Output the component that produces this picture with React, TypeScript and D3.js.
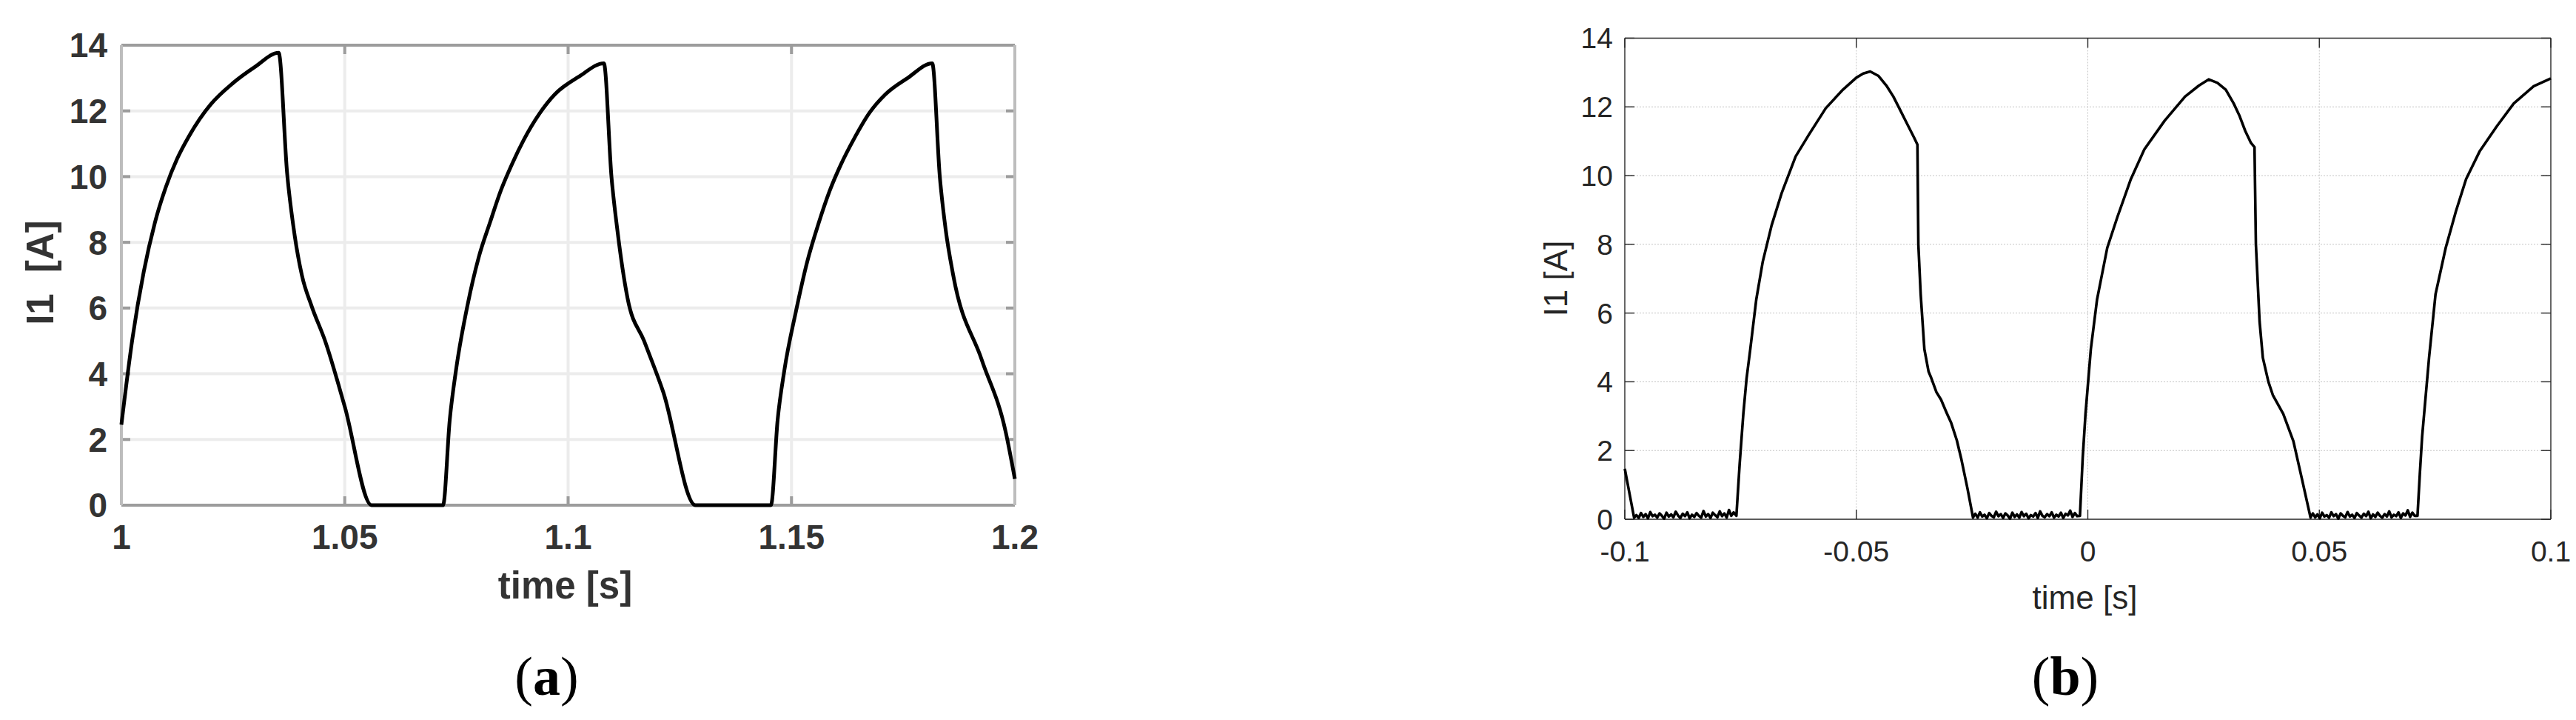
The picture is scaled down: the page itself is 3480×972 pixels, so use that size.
import React from 'react';
import * as d3 from 'd3';

// tick values shared by both panels
const currentTicks = [0, 2, 4, 6, 8, 10, 12, 14];
const simTimeTicks = [1, 1.05, 1.1, 1.15, 1.2];
const measTimeTicks = [-0.1, -0.05, 0, 0.05, 0.1];

// (a) simulated phase current I1 [A] vs time [s]
const simulatedI1: [number, number][] = [
  [1.0, 2.45], [1.0025, 5.1], [1.005, 7.1], [1.0075, 8.6], [1.01, 9.7], [1.0125, 10.55],
  [1.015, 11.2], [1.0175, 11.75], [1.02, 12.2], [1.025, 12.85], [1.03, 13.35], [1.0352, 13.77],
  [1.0371, 10.1], [1.0388, 8.2], [1.0404, 7.0], [1.0426, 6.05], [1.0456, 5.0], [1.05, 3.0],
  [1.056, 0], [1.072, 0],
  [1.0735, 2.6], [1.075, 4.2], [1.0775, 6.1], [1.08, 7.55], [1.0825, 8.6], [1.085, 9.6],
  [1.0875, 10.4], [1.09, 11.1], [1.0935, 11.9], [1.097, 12.5], [1.1025, 13.05], [1.108, 13.45],
  [1.1097, 10.0], [1.111, 8.4], [1.1133, 6.3], [1.117, 5.0], [1.1213, 3.44], [1.1285, 0],
  [1.1454, 0],
  [1.1469, 2.6], [1.1484, 4.1], [1.151, 5.9], [1.1535, 7.4], [1.156, 8.55], [1.1585, 9.55],
  [1.161, 10.35], [1.164, 11.15], [1.1675, 11.95], [1.171, 12.5], [1.176, 13.0], [1.1815, 13.45],
  [1.1832, 10.0], [1.1845, 8.4], [1.1862, 7.0], [1.1926, 4.42], [1.198, 2.2], [1.2, 0.8],
];

// (b) measured phase current I1 [A] vs time [s]
const measuredI1: [number, number][] = [
  [-0.1, 1.47], [-0.0992, 0.9], [-0.098, 0.05],
  [-0.0975, 0.12], [-0.097, 0.04], [-0.0965, 0.18], [-0.096, 0.07], [-0.0955, 0.15], [-0.095, 0.03],
  [-0.0945, 0.21], [-0.094, 0.09], [-0.0935, 0.13], [-0.093, 0.05], [-0.0925, 0.17], [-0.092, 0.1],
  [-0.0915, 0.02], [-0.091, 0.19], [-0.0905, 0.08], [-0.09, 0.14], [-0.0895, 0.06], [-0.089, 0.22],
  [-0.0885, 0.11], [-0.088, 0.04], [-0.0875, 0.16], [-0.087, 0.09], [-0.0865, 0.2], [-0.086, 0.03],
  [-0.0855, 0.13], [-0.085, 0.07], [-0.0845, 0.18], [-0.084, 0.1], [-0.0835, 0.05], [-0.083, 0.24],
  [-0.0825, 0.08], [-0.082, 0.15], [-0.0815, 0.04], [-0.081, 0.19], [-0.0805, 0.12], [-0.08, 0.06],
  [-0.0795, 0.23], [-0.079, 0.09], [-0.0785, 0.17], [-0.078, 0.05], [-0.0775, 0.27], [-0.077, 0.1],
  [-0.0765, 0.2], [-0.0759, 0.1],
  [-0.0752, 1.6], [-0.0744, 3.07], [-0.0737, 4.1], [-0.0729, 4.95], [-0.0716, 6.4], [-0.0702, 7.5],
  [-0.0683, 8.55], [-0.0661, 9.5], [-0.0631, 10.56], [-0.0602, 11.2], [-0.0566, 11.96], [-0.0529, 12.5],
  [-0.05, 12.85], [-0.0485, 12.97], [-0.047, 13.03], [-0.0452, 12.9], [-0.0434, 12.6], [-0.042, 12.3],
  [-0.0405, 11.9], [-0.039, 11.5], [-0.0375, 11.1], [-0.0368, 10.9], [-0.0366, 8.0], [-0.0361, 6.55],
  [-0.0353, 4.95], [-0.0344, 4.3], [-0.0339, 4.14], [-0.0327, 3.7], [-0.0317, 3.48], [-0.0305, 3.1],
  [-0.0295, 2.8], [-0.0283, 2.3], [-0.0273, 1.74], [-0.026, 0.9], [-0.0248, 0.05],
  [-0.0243, 0.16], [-0.0238, 0.05], [-0.0233, 0.2], [-0.0228, 0.08], [-0.0223, 0.13], [-0.0218, 0.03],
  [-0.0213, 0.18], [-0.0208, 0.1], [-0.0203, 0.06], [-0.0198, 0.22], [-0.0193, 0.09], [-0.0188, 0.15],
  [-0.0183, 0.04], [-0.0178, 0.17], [-0.0173, 0.11], [-0.0168, 0.02], [-0.0163, 0.19], [-0.0158, 0.07],
  [-0.0153, 0.14], [-0.0148, 0.05], [-0.0143, 0.21], [-0.0138, 0.09], [-0.0133, 0.16], [-0.0128, 0.03],
  [-0.0123, 0.12], [-0.0118, 0.08], [-0.0113, 0.18], [-0.0108, 0.04], [-0.0103, 0.23], [-0.0098, 0.1],
  [-0.0093, 0.06], [-0.0088, 0.15], [-0.0083, 0.09], [-0.0078, 0.2], [-0.0073, 0.05], [-0.0068, 0.13],
  [-0.0063, 0.08], [-0.0058, 0.19], [-0.0053, 0.04], [-0.0048, 0.16], [-0.0043, 0.11], [-0.0038, 0.25],
  [-0.0033, 0.07], [-0.0028, 0.18], [-0.0023, 0.09], [-0.0017, 0.1],
  [-0.0011, 1.8], [-0.0005, 3.07], [0.00065, 4.95], [0.002, 6.4], [0.0042, 7.9], [0.0064, 8.8],
  [0.0093, 9.9], [0.0122, 10.76], [0.0166, 11.6], [0.021, 12.3], [0.024, 12.62], [0.0261, 12.8],
  [0.028, 12.7], [0.0298, 12.5], [0.0315, 12.1], [0.0327, 11.76], [0.034, 11.3], [0.0352, 10.96],
  [0.036, 10.83], [0.0363, 8.0], [0.0371, 5.75], [0.0378, 4.7], [0.039, 4.0], [0.04, 3.6],
  [0.0422, 3.07], [0.0444, 2.27], [0.0462, 1.2], [0.0481, 0.05],
  [0.0486, 0.17], [0.0491, 0.06], [0.0496, 0.14], [0.0501, 0.03], [0.0506, 0.19], [0.0511, 0.08],
  [0.0516, 0.12], [0.0521, 0.05], [0.0526, 0.2], [0.0531, 0.09], [0.0536, 0.15], [0.0541, 0.02],
  [0.0546, 0.17], [0.0551, 0.1], [0.0556, 0.06], [0.0561, 0.21], [0.0566, 0.08], [0.0571, 0.13],
  [0.0576, 0.04], [0.0581, 0.18], [0.0586, 0.11], [0.0591, 0.05], [0.0596, 0.16], [0.0601, 0.09],
  [0.0606, 0.22], [0.0611, 0.03], [0.0616, 0.14], [0.0621, 0.07], [0.0626, 0.19], [0.0631, 0.1],
  [0.0636, 0.05], [0.0641, 0.15], [0.0646, 0.08], [0.0651, 0.23], [0.0656, 0.06], [0.0661, 0.13],
  [0.0666, 0.09], [0.0671, 0.2], [0.0676, 0.04], [0.0681, 0.17], [0.0686, 0.11], [0.0691, 0.26],
  [0.0696, 0.07], [0.0701, 0.19], [0.0706, 0.1], [0.0712, 0.1],
  [0.0717, 1.3], [0.0722, 2.4], [0.0737, 4.7], [0.0751, 6.55], [0.0773, 7.9], [0.0795, 8.96],
  [0.0817, 9.9], [0.0846, 10.7], [0.0883, 11.43], [0.092, 12.1], [0.0963, 12.6], [0.1, 12.83],
];

type Look = {
  font: string;
  weight: string;
  tickFont: number;
  labelFont: number;
  text: string;
  frameH: string;
  frameV: string;
  frameW: number;
  tickColor: string;
  tickW: number;
  tickLen: number;
  grid: string;
  gridW: number;
  gridDash?: string;
  lineW: number;
  yGap: number;
  xLabelOff: number;
  xTitleOff: number;
};

type PanelProps = {
  data: [number, number][];
  xTicks: number[];
  box: { left: number; right: number; top: number; bottom: number };
  look: Look;
  smooth: boolean;
  yTitle: string;
  yTitleX: number;
  yTitleY: number;
};

function Panel({ data, xTicks, box, look, smooth, yTitle, yTitleX, yTitleY }: PanelProps) {
  const x = d3.scaleLinear().domain([xTicks[0], xTicks[xTicks.length - 1]]).range([box.left, box.right]);
  const y = d3.scaleLinear().domain([0, 14]).range([box.bottom, box.top]);
  const line = d3.line<[number, number]>()
    .x(d => x(d[0]))
    .y(d => y(d[1]))
    .curve(smooth ? d3.curveMonotoneX : d3.curveLinear);
  const cap = look.tickFont * 0.716;
  const midX = (box.left + box.right) / 2;

  return (
    <g fontFamily={look.font} fontWeight={look.weight} fill={look.text}>
      {/* grid */}
      {currentTicks.slice(1, -1).map(v => (
        <line key={'gy' + v} x1={box.left} x2={box.right} y1={y(v)} y2={y(v)}
          stroke={look.grid} strokeWidth={look.gridW} strokeDasharray={look.gridDash} />
      ))}
      {xTicks.slice(1, -1).map(v => (
        <line key={'gx' + v} x1={x(v)} x2={x(v)} y1={box.top} y2={box.bottom}
          stroke={look.grid} strokeWidth={look.gridW} strokeDasharray={look.gridDash} />
      ))}
      {/* ticks on all four sides, pointing in */}
      {currentTicks.map(v => (
        <g key={'ty' + v} stroke={look.tickColor} strokeWidth={look.tickW}>
          <line x1={box.left} x2={box.left + look.tickLen} y1={y(v)} y2={y(v)} />
          <line x1={box.right} x2={box.right - look.tickLen} y1={y(v)} y2={y(v)} />
        </g>
      ))}
      {xTicks.map(v => (
        <g key={'tx' + v} stroke={look.tickColor} strokeWidth={look.tickW}>
          <line x1={x(v)} x2={x(v)} y1={box.bottom} y2={box.bottom - look.tickLen} />
          <line x1={x(v)} x2={x(v)} y1={box.top} y2={box.top + look.tickLen} />
        </g>
      ))}
      {/* frame */}
      <line x1={box.left} x2={box.right} y1={box.top} y2={box.top} stroke={look.frameH} strokeWidth={look.frameW} />
      <line x1={box.left} x2={box.right} y1={box.bottom} y2={box.bottom} stroke={look.frameH} strokeWidth={look.frameW} />
      <line x1={box.left} x2={box.left} y1={box.top} y2={box.bottom} stroke={look.frameV} strokeWidth={look.frameW} />
      <line x1={box.right} x2={box.right} y1={box.top} y2={box.bottom} stroke={look.frameV} strokeWidth={look.frameW} />

      <path d={line(data) || ''} fill="none" stroke="#000" strokeWidth={look.lineW} strokeLinejoin="round" />

      {/* tick labels */}
      {currentTicks.map(v => (
        <text key={'ly' + v} x={box.left - look.yGap} y={y(v) + cap / 2} textAnchor="end" fontSize={look.tickFont}>
          {String(v)}
        </text>
      ))}
      {xTicks.map(v => (
        <text key={'lx' + v} x={x(v)} y={box.bottom + look.xLabelOff} textAnchor="middle" fontSize={look.tickFont}>
          {String(v)}
        </text>
      ))}
      <text x={midX - 4} y={box.bottom + look.xTitleOff} textAnchor="middle" fontSize={look.labelFont}>time [s]</text>
      <text transform={`translate(${yTitleX},${yTitleY}) rotate(-90)`} textAnchor="middle" fontSize={look.labelFont}>
        {yTitle}
      </text>
    </g>
  );
}

const simLook: Look = {
  font: '"Liberation Sans", Arial, sans-serif',
  weight: 'bold',
  tickFont: 46,
  labelFont: 51,
  text: '#333333',
  frameH: '#9c9c9c',
  frameV: '#bdbdbd',
  frameW: 4,
  tickColor: '#9c9c9c',
  tickW: 4,
  tickLen: 12,
  grid: '#ececec',
  gridW: 4,
  lineW: 5,
  yGap: 19,
  xLabelOff: 59,
  xTitleOff: 126,
};

const measLook: Look = {
  font: '"Liberation Sans", Arial, sans-serif',
  weight: 'normal',
  tickFont: 39,
  labelFont: 44,
  text: '#262626',
  frameH: '#262626',
  frameV: '#262626',
  frameW: 1.4,
  tickColor: '#262626',
  tickW: 1.4,
  tickLen: 13,
  grid: '#c4c4c4',
  gridW: 1,
  gridDash: '2,2',
  lineW: 3.6,
  yGap: 16,
  xLabelOff: 57,
  xTitleOff: 121,
};

export default function App() {
  return (
    <svg width={3480} height={972} style={{ position: 'absolute', left: 0, top: 0, background: '#fff' }}>
      <rect width={3480} height={972} fill="#fff" />
      <Panel data={simulatedI1} xTicks={simTimeTicks} box={{ left: 164, right: 1371, top: 61, bottom: 682 }}
        look={simLook} smooth yTitle={'I1\u00a0\u00a0[A]'} yTitleX={72} yTitleY={368} />
      <Panel data={measuredI1} xTicks={measTimeTicks} box={{ left: 2195, right: 3446, top: 51.5, bottom: 701 }}
        look={measLook} smooth={false} yTitle="I1 [A]" yTitleX={2117} yTitleY={376} />
      <g fontFamily='"Liberation Serif", "DejaVu Serif", serif' fontSize={74} fill="#000">
        <text x={738.5} y={938} textAnchor="middle">(<tspan fontWeight="bold">a</tspan>)</text>
        <text x={2790} y={938} textAnchor="middle">(<tspan fontWeight="bold">b</tspan>)</text>
      </g>
    </svg>
  );
}
